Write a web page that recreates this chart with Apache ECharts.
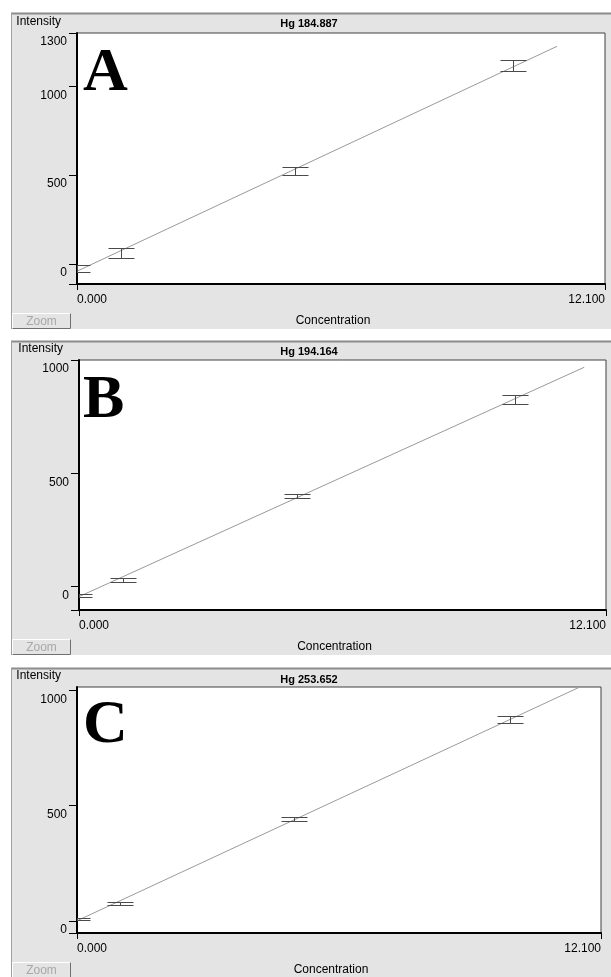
<!DOCTYPE html>
<html><head><meta charset="utf-8">
<script src="https://cdn.jsdelivr.net/npm/echarts@6/dist/echarts.min.js"></script>
<style>html,body{margin:0;padding:0;background:#fff}#c{width:611px;height:977px}</style>
</head><body><div id="c"></div>
<script>
// ---- data ----
const concentrations = [0, 1, 5, 10];
const panelTitles = ['Hg 184.887', 'Hg 194.164', 'Hg 253.652'];
const panelLetters = ['A', 'B', 'C'];
const intensityA = [-26, 62, 525, 1116];
const errorA = [19, 28, 22, 31];
const fitA = [[0, -41], [11, 1225]];
const intensityB = [-40, 30, 398, 827];
const errorB = [7, 9, 9, 20];
const fitB = [[0, -44], [11.6, 968]];
const intensityC = [10, 75, 442, 873];
const errorC = [4, 7, 9, 16];
const fitC = [[0, 1], [11.6, 1014]];
const yLabelsA = [0, 500, 1000, 1300];
const yLabelsB = [0, 500, 1000];
const yLabelsC = [0, 500, 1000];
const yRangeA = [-113, 1300];
const yRangeB = [-103, 1000];
const yRangeC = [-52, 1015];
const xRange = [0, 12.1];
const xLabelDecimals = 3;
const yAxisName = 'Intensity';
const xAxisName = 'Concentration';
const zoomText = 'Zoom';

// ---- layout (styles only) ----
const panels = [
  {bg: [11, 13, 600, 316], grid: {left: 77, top: 33, width: 528, height: 251}, titleTop: 18, letterY: 74, btnY: 313},
  {bg: [11, 341, 600, 314], grid: {left: 79, top: 360, width: 527, height: 250}, titleTop: 346, letterY: 401, btnY: 639},
  {bg: [11, 668, 600, 309], grid: {left: 77, top: 687, width: 524, height: 250}, titleTop: 674, letterY: 726, btnY: 962}
];
const intensities = [intensityA, intensityB, intensityC];
const errors = [errorA, errorB, errorC];
const fits = [fitA, fitB, fitC];
const yLabels = [yLabelsA, yLabelsB, yLabelsC];
const yRanges = [yRangeA, yRangeB, yRangeC];

const FONT = '"Liberation Sans", Arial, sans-serif';
const chart = echarts.init(document.getElementById('c'));

function renderErr(params, api) {
  const x = api.value(0), y = api.value(1), e = api.value(2);
  const t = api.coord([x, y + e]);
  const b = api.coord([x, y - e]);
  const cx = Math.round(t[0]) + 0.5, ty = Math.round(t[1]) + 0.5, by = Math.round(b[1]) + 0.5;
  const hw = 13;
  const st = {stroke: '#4a4a4a', lineWidth: 1};
  return {type: 'group', children: [
    {type: 'line', shape: {x1: cx, y1: ty, x2: cx, y2: by}, style: st},
    {type: 'line', shape: {x1: cx - hw, y1: ty, x2: cx + hw, y2: ty}, style: st},
    {type: 'line', shape: {x1: cx - hw, y1: by, x2: cx + hw, y2: by}, style: st}
  ]};
}

const grids = [], xAxes = [], yAxes = [], series = [], titles = [], graphics = [];
panels.forEach((p, i) => {
  graphics.push({type: 'rect', z: -100, silent: true, shape: {x: p.bg[0], y: p.bg[1], width: p.bg[2], height: p.bg[3]}, style: {fill: '#e4e4e4'}});
  graphics.push({type: 'line', z: -99, silent: true, shape: {x1: p.bg[0], y1: p.bg[1] + 0.5, x2: p.bg[0] + p.bg[2], y2: p.bg[1] + 0.5}, style: {stroke: '#8c8c8c', lineWidth: 2}});
  graphics.push({type: 'line', z: -99, silent: true, shape: {x1: p.bg[0] + 0.5, y1: p.bg[1], x2: p.bg[0] + 0.5, y2: p.bg[1] + p.bg[3]}, style: {stroke: '#a0a0a0', lineWidth: 1}});
  // Zoom button
  graphics.push({type: 'rect', z: 50, silent: true, shape: {x: 12.5, y: p.btnY + 0.5, width: 58, height: 15}, style: {fill: '#e4e4e4', stroke: '#ffffff', lineWidth: 1}});
  graphics.push({type: 'polyline', z: 51, silent: true, shape: {points: [[12.5, p.btnY + 15.5], [70.5, p.btnY + 15.5], [70.5, p.btnY + 0.5]]}, style: {stroke: '#707070', fill: null, lineWidth: 1}});
  graphics.push({type: 'text', z: 52, silent: true, style: {x: 41.5, y: p.btnY + 8.5, text: zoomText, fill: '#a8a8a8', font: '12px ' + FONT, textAlign: 'center', textVerticalAlign: 'middle'}});
  // panel letter
  graphics.push({type: 'text', z: 100, silent: true, style: {x: 83, y: p.letterY, text: panelLetters[i], fill: '#000', font: 'bold 62px "Liberation Serif", "Times New Roman", serif', textAlign: 'left', textVerticalAlign: 'middle'}});

  titles.push({text: panelTitles[i], left: 309, top: p.titleTop, textAlign: 'center', padding: 0,
    textStyle: {fontFamily: FONT, fontSize: 11, fontWeight: 'bold', color: '#000'}});

  grids.push(Object.assign({show: true, backgroundColor: '#ffffff', borderColor: '#404040', borderWidth: 1}, p.grid));
  xAxes.push({type: 'value', gridIndex: i, min: xRange[0], max: xRange[1], interval: xRange[1],
    name: xAxisName, nameLocation: 'middle', nameGap: 31,
    nameTextStyle: {fontFamily: FONT, fontSize: 12, color: '#000', padding: [0, 16, 0, 0]},
    axisLine: {show: true, onZero: false, lineStyle: {color: '#000', width: 2}},
    axisTick: {show: true, length: 6, inside: false, lineStyle: {color: '#000', width: 1}},
    axisLabel: {show: true, margin: 10, fontFamily: FONT, fontSize: 12, color: '#000',
      alignMinLabel: 'left', alignMaxLabel: 'right',
      formatter: v => v.toFixed(xLabelDecimals)},
    splitLine: {show: false}});
  const yl = yLabels[i], yr = yRanges[i];
  yAxes.push({type: 'value', gridIndex: i, min: yr[0], max: yr[1],
    name: yAxisName, nameLocation: 'end', nameGap: 5,
    nameTextStyle: {fontFamily: FONT, fontSize: 12, color: '#000', align: 'right', padding: [0, 16, 0, 0]},
    axisLine: {show: true, onZero: false, lineStyle: {color: '#000', width: 2}},
    axisTick: {show: true, length: 8, customValues: [yr[0]].concat(yl), lineStyle: {color: '#000', width: 1}},
    axisLabel: {show: true, margin: 10, customValues: yl, fontFamily: FONT, fontSize: 12, color: '#000',
      verticalAlign: 'top', padding: [3, 0, 0, 0], formatter: v => String(v)},
    splitLine: {show: false}});
  series.push({type: 'line', xAxisIndex: i, yAxisIndex: i, data: fits[i], symbol: 'none', silent: true,
    lineStyle: {color: '#9a9a9a', width: 1}, z: 3});
  series.push({type: 'custom', xAxisIndex: i, yAxisIndex: i, clip: true, silent: true, z: 4,
    data: concentrations.map((c, k) => [c, intensities[i][k], errors[i][k]]),
    renderItem: renderErr});
});

chart.setOption({
  animation: false,
  backgroundColor: '#ffffff',
  title: titles,
  grid: grids,
  xAxis: xAxes,
  yAxis: yAxes,
  series: series,
  graphic: {elements: graphics}
});
</script></body></html>
